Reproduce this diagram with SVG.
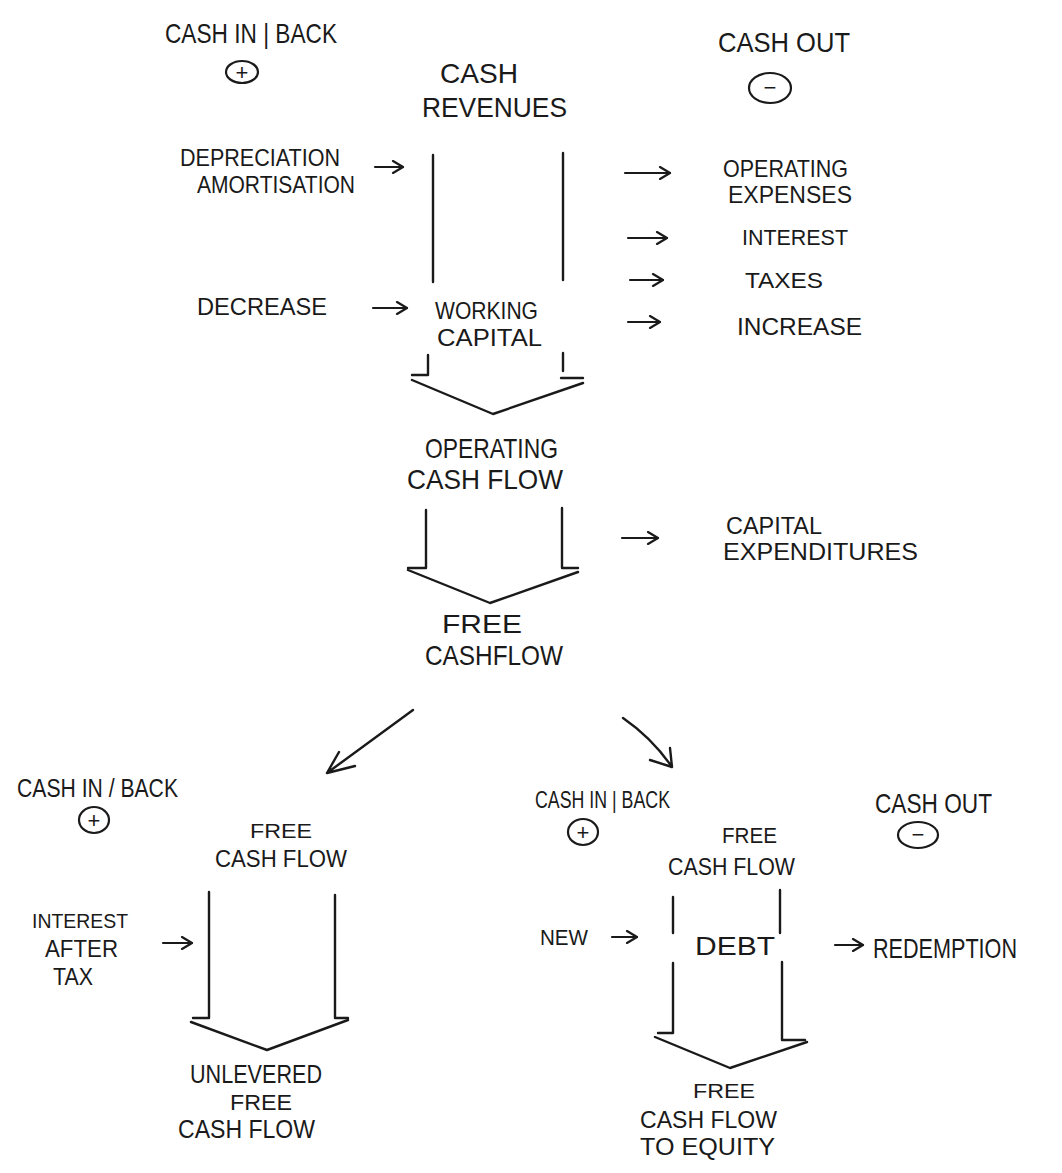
<svg xmlns="http://www.w3.org/2000/svg" width="1062" height="1173" viewBox="0 0 1062 1173">
<style>
text{font-family:"Liberation Sans",Arial,sans-serif;fill:#1a1a1a;}
.ln{fill:none;stroke:#1a1a1a;stroke-width:2.4;stroke-linecap:round;stroke-linejoin:round;}
.ar{fill:none;stroke:#1a1a1a;stroke-width:2.2;stroke-linecap:round;marker-end:url(#ah);}
.cir{fill:none;stroke:#1a1a1a;stroke-width:2.2;}
.sg{text-anchor:middle;dominant-baseline:central;font-size:22px;}
</style>
<defs>
<marker id="ah" viewBox="0 0 14 14" refX="12" refY="7" markerWidth="14" markerHeight="14" markerUnits="userSpaceOnUse" orient="auto">
<path d="M2,1 L12,7 L2,13" fill="none" stroke="#1a1a1a" stroke-width="2.2" stroke-linecap="round" stroke-linejoin="round"/>
</marker>
</defs>
<rect width="1062" height="1173" fill="#ffffff"/>

<g id="connectors">
<!-- top flow -->
<path class="ln" d="M433,155 L433,282"/>
<path class="ln" d="M563,153 L563,280"/>
<path class="ln" d="M428,355 L428,375 L412,375"/>
<path class="ln" d="M563,353 L563,371"/>
<path class="ln" d="M561,378 L583,378"/>
<path class="ln" d="M412,380 L493,414 L583,383"/>
<!-- second flow -->
<path class="ln" d="M426,510 L426,568 L408,568"/>
<path class="ln" d="M562,508 L562,568 L578,568"/>
<path class="ln" d="M408,570 L490,603 L578,572"/>
<!-- bottom left flow -->
<path class="ln" d="M209,892 L209,1018 L193,1018"/>
<path class="ln" d="M335,895 L335,1018 L348,1018"/>
<path class="ln" d="M191,1022 L267,1050 L348,1020"/>
<!-- bottom right flow -->
<path class="ln" d="M673,897 L673,933"/>
<path class="ln" d="M673,963 L673,1033 L658,1033"/>
<path class="ln" d="M780,890 L780,933"/>
<path class="ln" d="M782,962 L782,1040 L805,1040"/>
<path class="ln" d="M655,1037 L730,1068 L807,1042"/>
<!-- diagonal split arrows -->
<path class="ln" d="M413,710 L327,773 M327,773 L339,752 M327,773 L355,766"/>
<path class="ln" d="M623,718 Q652,738 672,767 M672,767 L650,760 M672,767 L670,748"/>
<!-- short arrows -->
<path class="ar" d="M375,167 L403,167"/>
<path class="ar" d="M373,308 L407,308"/>
<path class="ar" d="M625,173 L670,173"/>
<path class="ar" d="M628,238 L667,238"/>
<path class="ar" d="M630,280 L663,280"/>
<path class="ar" d="M628,322 L660,322"/>
<path class="ar" d="M622,538 L658,538"/>
<path class="ar" d="M163,943 L192,943"/>
<path class="ar" d="M612,937 L637,937"/>
<path class="ar" d="M835,945 L863,945"/>
</g>

<g id="cash-in-top">
<text x="165" y="43" font-size="28" textLength="172" lengthAdjust="spacingAndGlyphs">CASH IN | BACK</text>
<ellipse class="cir" cx="242" cy="72" rx="16" ry="11"/>
<text class="sg" x="242" y="72">+</text>
</g>
<g id="cash-out-top">
<text x="718" y="52" font-size="28" textLength="132" lengthAdjust="spacingAndGlyphs">CASH OUT</text>
<ellipse class="cir" cx="770" cy="88" rx="21" ry="15"/>
<text class="sg" x="770" y="87">−</text>
</g>
<g id="cash-revenues">
<text x="440" y="83" font-size="28" textLength="78" lengthAdjust="spacingAndGlyphs">CASH</text>
<text x="422" y="117" font-size="28" textLength="145" lengthAdjust="spacingAndGlyphs">REVENUES</text>
</g>
<g id="depreciation">
<text x="180" y="166" font-size="24" textLength="160" lengthAdjust="spacingAndGlyphs">DEPRECIATION</text>
<text x="197" y="193" font-size="24" textLength="158" lengthAdjust="spacingAndGlyphs">AMORTISATION</text>
</g>
<g id="decrease">
<text x="197" y="315" font-size="24" textLength="130" lengthAdjust="spacingAndGlyphs">DECREASE</text>
</g>
<g id="working-capital">
<text x="435" y="319" font-size="24" textLength="103" lengthAdjust="spacingAndGlyphs">WORKING</text>
<text x="437" y="346" font-size="24" textLength="105" lengthAdjust="spacingAndGlyphs">CAPITAL</text>
</g>
<g id="operating-expenses">
<text x="723" y="177" font-size="24" textLength="125" lengthAdjust="spacingAndGlyphs">OPERATING</text>
<text x="728" y="203" font-size="24" textLength="124" lengthAdjust="spacingAndGlyphs">EXPENSES</text>
</g>
<g id="interest">
<text x="742" y="245" font-size="22" textLength="106" lengthAdjust="spacingAndGlyphs">INTEREST</text>
</g>
<g id="taxes">
<text x="745" y="288" font-size="22" textLength="78" lengthAdjust="spacingAndGlyphs">TAXES</text>
</g>
<g id="increase">
<text x="737" y="335" font-size="24" textLength="125" lengthAdjust="spacingAndGlyphs">INCREASE</text>
</g>
<g id="operating-cash-flow">
<text x="425" y="458" font-size="28" textLength="133" lengthAdjust="spacingAndGlyphs">OPERATING</text>
<text x="407" y="489" font-size="28" textLength="156" lengthAdjust="spacingAndGlyphs">CASH FLOW</text>
</g>
<g id="capital-expenditures">
<text x="726" y="534" font-size="23" textLength="96" lengthAdjust="spacingAndGlyphs">CAPITAL</text>
<text x="723" y="560" font-size="23" textLength="195" lengthAdjust="spacingAndGlyphs">EXPENDITURES</text>
</g>
<g id="free-cashflow">
<text x="442" y="633" font-size="26" textLength="80" lengthAdjust="spacingAndGlyphs">FREE</text>
<text x="425" y="665" font-size="28" textLength="138" lengthAdjust="spacingAndGlyphs">CASHFLOW</text>
</g>

<g id="cash-in-left">
<text x="17" y="797" font-size="26" textLength="161" lengthAdjust="spacingAndGlyphs">CASH IN / BACK</text>
<ellipse class="cir" cx="94" cy="820" rx="15" ry="13"/>
<text class="sg" x="94" y="820" font-size="18">+</text>
</g>
<g id="fcf-left">
<text x="250" y="838" font-size="20" textLength="62" lengthAdjust="spacingAndGlyphs">FREE</text>
<text x="215" y="867" font-size="24" textLength="132" lengthAdjust="spacingAndGlyphs">CASH FLOW</text>
</g>
<g id="interest-after-tax">
<text x="32" y="928" font-size="20" textLength="96" lengthAdjust="spacingAndGlyphs">INTEREST</text>
<text x="45" y="957" font-size="24" textLength="73" lengthAdjust="spacingAndGlyphs">AFTER</text>
<text x="53" y="985" font-size="24" textLength="40" lengthAdjust="spacingAndGlyphs">TAX</text>
</g>
<g id="unlevered-fcf">
<text x="190" y="1083" font-size="26" textLength="132" lengthAdjust="spacingAndGlyphs">UNLEVERED</text>
<text x="230" y="1110" font-size="22" textLength="62" lengthAdjust="spacingAndGlyphs">FREE</text>
<text x="178" y="1138" font-size="26" textLength="137" lengthAdjust="spacingAndGlyphs">CASH FLOW</text>
</g>

<g id="cash-in-right">
<text x="535" y="808" font-size="24" textLength="135" lengthAdjust="spacingAndGlyphs">CASH IN | BACK</text>
<ellipse class="cir" cx="583" cy="832" rx="15" ry="13"/>
<text class="sg" x="583" y="832" font-size="20">+</text>
</g>
<g id="cash-out-right">
<text x="875" y="813" font-size="28" textLength="117" lengthAdjust="spacingAndGlyphs">CASH OUT</text>
<ellipse class="cir" cx="918" cy="835" rx="20" ry="13"/>
<text class="sg" x="918" y="834" font-size="20">−</text>
</g>
<g id="fcf-right">
<text x="722" y="843" font-size="22" textLength="55" lengthAdjust="spacingAndGlyphs">FREE</text>
<text x="668" y="875" font-size="24" textLength="127" lengthAdjust="spacingAndGlyphs">CASH FLOW</text>
</g>
<g id="new">
<text x="540" y="945" font-size="22" textLength="48" lengthAdjust="spacingAndGlyphs">NEW</text>
</g>
<g id="debt">
<text x="695" y="955" font-size="26" textLength="80" lengthAdjust="spacingAndGlyphs">DEBT</text>
</g>
<g id="redemption">
<text x="873" y="958" font-size="28" textLength="144" lengthAdjust="spacingAndGlyphs">REDEMPTION</text>
</g>
<g id="fcf-equity">
<text x="693" y="1098" font-size="20" textLength="62" lengthAdjust="spacingAndGlyphs">FREE</text>
<text x="640" y="1128" font-size="24" textLength="137" lengthAdjust="spacingAndGlyphs">CASH FLOW</text>
<text x="640" y="1155" font-size="24" textLength="135" lengthAdjust="spacingAndGlyphs">TO EQUITY</text>
</g>
</svg>
